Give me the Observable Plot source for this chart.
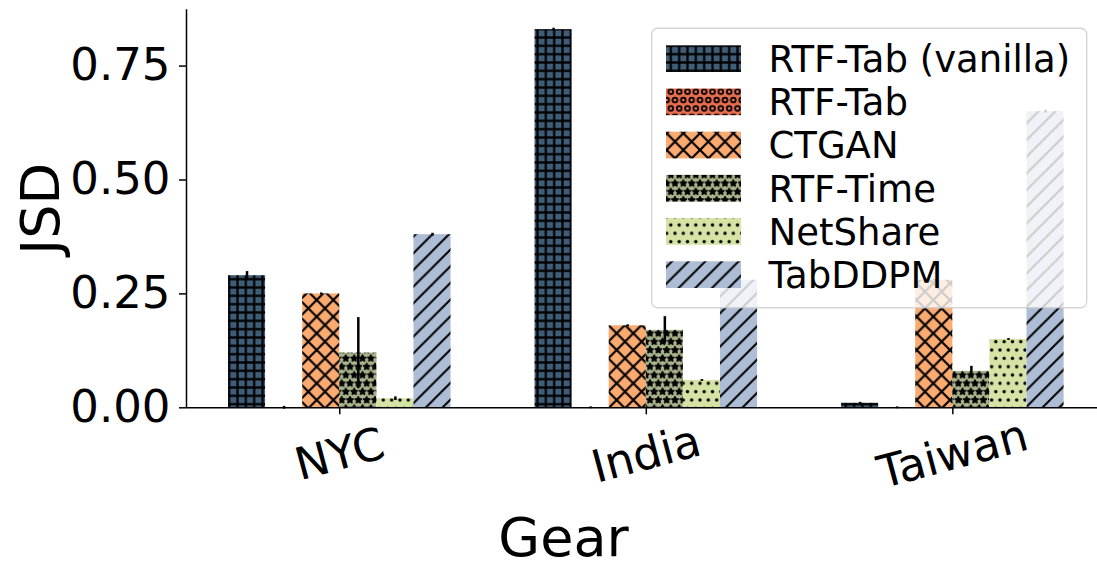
<!DOCTYPE html>
<html><head><meta charset="utf-8">
<script src="https://cdn.jsdelivr.net/npm/d3@7"></script>
<script src="https://cdn.jsdelivr.net/npm/@observablehq/plot@0.6"></script>
<style>
html,body{margin:0;padding:0;background:#fff;}
#chart{position:relative;width:1097px;height:570px;overflow:hidden;}
svg{display:block;}
</style></head><body><div id="chart"></div>
<script>
// ---- data ----
const groups = ["NYC", "India", "Taiwan"];
const methods = ["RTF-Tab (vanilla)", "RTF-Tab", "CTGAN", "RTF-Time", "NetShare", "TabDDPM"];
const colors = ["#3f5d77", "#e76f51", "#fbab70", "#a9b48c", "#d5e3a5", "#adbdd6"];
const hatches = ["grid", "circles", "cross", "stars", "dots", "diag"];

const vanillaVals = [0.29, 0.83, 0.01];
const rtfTabVals  = [0.0, 0.0, 0.0];
const ctganVals   = [0.25, 0.18, 0.28];
const rtfTimeVals = [0.12, 0.17, 0.08];
const netShareVals= [0.02, 0.06, 0.15];
const tabDDPMVals = [0.38, 0.28, 0.65];

const vanillaErr  = [0.009, 0.003, 0.002];
const rtfTabErr   = [0.003, 0.002, 0.002];
const ctganErr    = [0.002, 0.002, 0.002];
const rtfTimeErr  = [0.078, 0.03, 0.011];
const netShareErr = [0.004, 0.002, 0.002];
const tabDDPMErr  = [0.003, 0.002, 0.003];

const yTicks = [0, 0.25, 0.5, 0.75];

const seriesVals = [vanillaVals, rtfTabVals, ctganVals, rtfTimeVals, netShareVals, tabDDPMVals];
const seriesErr  = [vanillaErr, rtfTabErr, ctganErr, rtfTimeErr, netShareErr, tabDDPMErr];
const barW = 0.121;

const rows = [];
methods.forEach((m, k) => {
  groups.forEach((g, i) => {
    const x1 = i + (k - 3) * barW;
    rows.push({group: g, method: m, value: seriesVals[k][i], err: seriesErr[k][i],
               x1, x2: x1 + barW, xc: x1 + barW / 2});
  });
});

const chart = Plot.plot({
  width: 1097, height: 570,
  marginLeft: 186, marginRight: 0, marginTop: 9.3, marginBottom: 162.7,
  style: {fontFamily: "DejaVu Sans", fontSize: "45px", color: "black", background: "white"},
  x: {domain: [-0.5, 2.5], range: [186, 1105.6]},
  y: {domain: [0, 0.8735]},
  color: {domain: methods, range: methods.map((m, k) => `url(#hatch-${k})`)},
  marks: [
    Plot.rect(rows, {x1: "x1", x2: "x2", y1: 0, y2: "value", fill: "method"}),
    Plot.ruleX(rows, {x: "xc", y1: d => d.value - d.err, y2: d => d.value + d.err, stroke: "black", strokeWidth: 2.5}),
    Plot.ruleX([-0.5], {stroke: "black", strokeWidth: 1.5}),
    Plot.ruleY([0], {stroke: "black", strokeWidth: 1.5}),
    Plot.axisY({ticks: yTicks, tickFormat: d3.format(".2f"), tickSize: 7, tickPadding: 9, fontSize: 45, label: null, strokeWidth: 1.5}),
    Plot.axisX({ticks: [0, 1, 2], tickFormat: () => "", tickSize: 7, label: null, strokeWidth: 1.5}),
    Plot.text(groups, {x: (d, i) => i, y: 0, text: d => d, rotate: -15, dy: 47, fontSize: 45, textAnchor: "middle", lineAnchor: "middle"}),
    Plot.text(["JSD"], {frameAnchor: "left", text: d => d, dx: -145, rotate: -90, fontSize: 54, textAnchor: "middle", lineAnchor: "middle"}),
    Plot.text(["Gear"], {frameAnchor: "bottom", text: d => d, dx: -78.5, dy: 131, fontSize: 54, textAnchor: "middle", lineAnchor: "middle"})
  ]
});
document.getElementById("chart").appendChild(chart);

// ---- hatch patterns ----
const svg = d3.select(chart);
const defs = svg.insert("defs", ":first-child");
const p = 100 / 12, P = 100 / 6;
function starPts(cx, cy, r) {
  const pts = [];
  for (let j = 0; j < 10; j++) {
    const a = -Math.PI / 2 + j * Math.PI / 5;
    const rr = j % 2 ? r * 0.5 : r;
    pts.push([cx + rr * Math.cos(a), cy + rr * Math.sin(a)]);
  }
  return pts.map(q => q.join(",")).join(" ");
}
hatches.forEach((kind, k) => {
  const big = kind === "cross" || kind === "diag";
  const shapes = kind === "circles" || kind === "stars" || kind === "dots";
  const w = big ? P : p, h = shapes ? 2 * p : w;
  const pat = defs.append("pattern").attr("id", `hatch-${k}`).attr("patternUnits", "userSpaceOnUse")
    .attr("width", w).attr("height", h);
  pat.append("rect").attr("width", w).attr("height", h).attr("fill", colors[k]);
  const pos = [[0, 0], [p, 0], [0, 2 * p], [p, 2 * p], [p / 2, p]];
  if (kind === "grid") {
    pat.append("path").attr("d", `M0,${p / 2}H${p}M${p / 2},0V${p}`).attr("stroke", "#000").attr("stroke-width", 2.2);
  } else if (kind === "diag") {
    pat.append("path").attr("d", `M-2,2L2,-2M0,${P}L${P},0M${P - 2},${P + 2}L${P + 2},${P - 2}`)
      .attr("stroke", "#000").attr("stroke-width", 2);
  } else if (kind === "cross") {
    pat.append("path").attr("d", `M-2,2L2,-2M0,${P}L${P},0M${P - 2},${P + 2}L${P + 2},${P - 2}` +
      `M0,0L${P},${P}M-2,${P - 2}L2,${P + 2}M${P - 2},-2L${P + 2},2`)
      .attr("stroke", "#000").attr("stroke-width", 2.2);
  } else if (kind === "circles") {
    pos.forEach(([cx, cy]) => pat.append("circle").attr("cx", cx).attr("cy", cy).attr("r", 2.4)
      .attr("fill", "none").attr("stroke", "#000").attr("stroke-width", 1.8));
  } else if (kind === "dots") {
    pos.forEach(([cx, cy]) => pat.append("circle").attr("cx", cx).attr("cy", cy).attr("r", 1.7).attr("fill", "#000"));
  } else if (kind === "stars") {
    pos.forEach(([cx, cy]) => pat.append("polygon").attr("points", starPts(cx, cy, 3.4))
      .attr("fill", "#000").attr("stroke", "#000").attr("stroke-width", 1.4).attr("stroke-linejoin", "round"));
  }
});

// ---- legend (upper right, inside axes) ----
const lg = svg.append("g").attr("class", "legend").attr("text-anchor", "start");
lg.append("rect").attr("x", 651.7).attr("y", 28.3).attr("width", 435).attr("height", 279.4).attr("rx", 6)
  .attr("fill", "white").attr("fill-opacity", 0.8).attr("stroke", "#cccccc").attr("stroke-opacity", 0.8).attr("stroke-width", 1.4);
methods.forEach((m, k) => {
  const top = 45.3 + 43.2 * k;
  lg.append("rect").attr("x", 666).attr("y", top).attr("width", 75).attr("height", 26.7).attr("fill", `url(#hatch-${k})`);
  lg.append("text").attr("x", 768.5).attr("y", top + 13.35 + 13.4).attr("font-size", 37)
    .attr("text-anchor", "start").attr("font-family", "DejaVu Sans").attr("fill", "black").text(m);
});
</script>
</body></html>
